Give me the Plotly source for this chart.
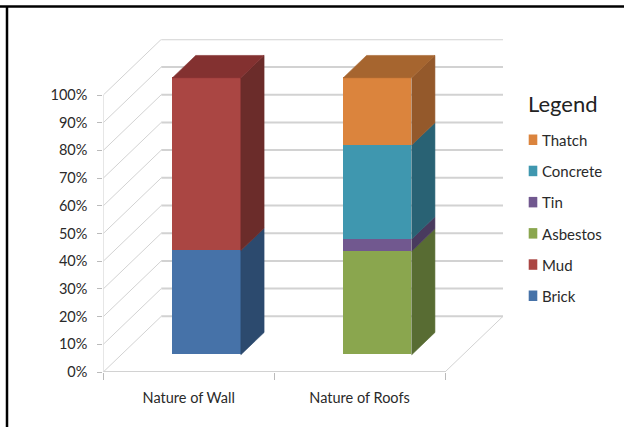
import plotly.graph_objects as go

W, H = 624, 427
categories = ["Nature of Wall", "Nature of Roofs"]
series_names = ["Brick", "Mud", "Asbestos", "Tin", "Concrete", "Thatch"]
wall_values = [37.6, 62.4, 0, 0, 0, 0]
roof_values = [0, 0, 37.4, 4.4, 33.9, 24.3]
front_colors = ["#4672A8", "#AA4643", "#8AA64E", "#71588F", "#3F97AF", "#DB843D"]
side_colors = ["#2C4A6E", "#6B2C2A", "#586C33", "#493A5E", "#296274", "#94592B"]
top_colors = ["#2F5078", "#833130", "#5F7537", "#503F66", "#2C6A7E", "#A6652F"]
y_ticks = list(range(0, 101, 10))
y_labels = [f"{v}%" for v in y_ticks]
legend_order = ["Thatch", "Concrete", "Tin", "Asbestos", "Mud", "Brick"]

# pixel frame of the oblique plot
PX_L, PX_FR, PX_BR = 103.3, 445.0, 503.0
PX_Y0, PX_Y100, PX_BACKTOP = 372.0, 95.0, 39.3
UX = (PX_FR - PX_L) / 2           # px per category
UY = (PX_Y0 - PX_Y100) / 100      # px per percent
DX = (PX_BR - PX_FR) / UX         # depth offset in x units
DY = (PX_Y100 - PX_BACKTOP) / UY  # depth offset in y units
D0, D1 = 0.31, 0.71               # bar depth extent
BW = 0.40                         # bar width in category units
FONT = "Lato"
TXT = "#2A2A2A"
GRID = "#D2D2D2"


def px(x, d):
    return x + d * DX


def py(v, d):
    return v + d * DY


def fx(p):
    return p / W


def fy(p):
    return 1 - p / H


fig = go.Figure()
shapes = []


def line(x0, y0, x1, y1, width, color=GRID):
    shapes.append(dict(type="line", xref="x", yref="y", layer="below",
                       x0=x0, y0=y0, x1=x1, y1=y1,
                       line=dict(color=color, width=width)))


# walls: oblique lines on the side wall, horizontal lines on the back wall
for v in y_ticks:
    line(px(0, 0), py(v, 0), px(0, 1), py(v, 1), 1)
    if v > 0:
        line(px(0, 1), py(v, 1), px(2, 1), py(v, 1), 2)
line(px(0, 1), py(0, 1), px(2, 1), py(0, 1), 2)
line(px(2, 0), py(0, 0), px(2, 1), py(0, 1), 1)
line(px(0, 0), py(0, 0), px(2, 0), py(0, 0), 2)
line(px(0, 0), py(0, 0), px(0, 0), py(100, 0), 1)

for ci, (cat, vals) in enumerate(zip(categories, [wall_values, roof_values])):
    c = ci + 0.5
    xl = px(c - BW / 2, D0)
    xr = xl + BW
    base = 0
    last = max(i for i, v in enumerate(vals) if v > 0)
    for i, v in enumerate(vals):
        if v <= 0:
            continue
        # front face: a real stacked bar
        fig.add_trace(go.Bar(x=[px(c, D0)], y=[v], base=[py(base, D0)], width=[BW],
                             name=series_names[i], showlegend=False,
                             marker=dict(color=front_colors[i], line=dict(width=0))))
        # side face
        sx = [xr, xr + (D1 - D0) * DX, xr + (D1 - D0) * DX, xr, xr]
        sy = [py(base, D0), py(base, D1), py(base + v, D1), py(base + v, D0), py(base, D0)]
        fig.add_trace(go.Scatter(x=sx, y=sy, mode="lines", fill="toself",
                                 fillcolor=side_colors[i],
                                 line=dict(width=0.6, color=side_colors[i]),
                                 name=series_names[i], showlegend=False, hoverinfo="skip"))
        if i == last:
            tx = [xl, xr, xr + (D1 - D0) * DX, xl + (D1 - D0) * DX, xl]
            t = base + v
            ty = [py(t, D0), py(t, D0), py(t, D1), py(t, D1), py(t, D0)]
            fig.add_trace(go.Scatter(x=tx, y=ty, mode="lines", fill="toself",
                                     fillcolor=top_colors[i],
                                     line=dict(width=0.6, color=top_colors[i]),
                                     name=series_names[i], showlegend=False, hoverinfo="skip"))
        base += v

# legend
annotations = [dict(text="Legend", xref="paper", yref="paper", x=fx(526), y=fy(103),
                    xanchor="left", yanchor="middle", showarrow=False,
                    font=dict(family=FONT, size=22, color="#222222"))]
LEG_Y0, LEG_STEP = 140.0, 31.2
for k, name in enumerate(legend_order):
    yc = LEG_Y0 + k * LEG_STEP
    col = front_colors[series_names.index(name)]
    shapes.append(dict(type="rect", xref="paper", yref="paper", layer="above",
                       x0=fx(528.7), x1=fx(537.3), y0=fy(yc + 5), y1=fy(yc - 5.5),
                       fillcolor=col, line=dict(width=0)))
    annotations.append(dict(text=name, xref="paper", yref="paper", x=fx(540), y=fy(yc),
                            xanchor="left", yanchor="middle", showarrow=False,
                            font=dict(family=FONT, size=15, color=TXT)))

# outer frame: only the top and left edges are visible
shapes.append(dict(type="line", xref="paper", yref="paper", layer="below",
                   x0=0, x1=1, y0=fy(6.5), y1=fy(6.5),
                   line=dict(color="#000000", width=2.5)))
shapes.append(dict(type="line", xref="paper", yref="paper", layer="below",
                   x0=fx(7), x1=fx(7), y0=0, y1=fy(6.5),
                   line=dict(color="#000000", width=2.5)))

fig.update_layout(
    width=W, height=H, autosize=False, barmode="overlay", showlegend=False,
    margin=dict(l=0, r=0, t=0, b=0), paper_bgcolor="white", plot_bgcolor="white",
    shapes=shapes, annotations=annotations, bargap=0,
    xaxis=dict(domain=[fx(PX_L), fx(PX_BR)], range=[0, 2 + DX], showgrid=False,
               automargin=False,
               zeroline=False, showline=False, tickmode="array", tickvals=[0.5, 1.5],
               ticktext=categories, ticks="", ticklen=0, ticklabelstandoff=15,
               tickfont=dict(family=FONT, size=14.5, color=TXT),
               minor=dict(tickmode="array", tickvals=[0, 1, 2], ticks="outside", ticklen=7,
                          tickcolor="#BBBBBB", tickwidth=1)),
    yaxis=dict(domain=[fy(PX_Y0), fy(PX_BACKTOP)], range=[0, 100 + DY], showgrid=False,
               automargin=False,
               zeroline=False, showline=False, tickmode="array", tickvals=y_ticks,
               ticktext=y_labels, ticks="outside", ticklen=5, tickcolor="#BBBBBB",
               tickwidth=1, ticklabelstandoff=7,
               tickfont=dict(family=FONT, size=14.5, color=TXT)),
)
fig.write_html("out.html",
               post_script="document.documentElement.style.overflow='hidden';"
                           "document.body.style.margin='0';"
                           "document.body.style.overflow='hidden';"
                           "document.body.style.height='427px';",
               config={"displayModeBar": False})
